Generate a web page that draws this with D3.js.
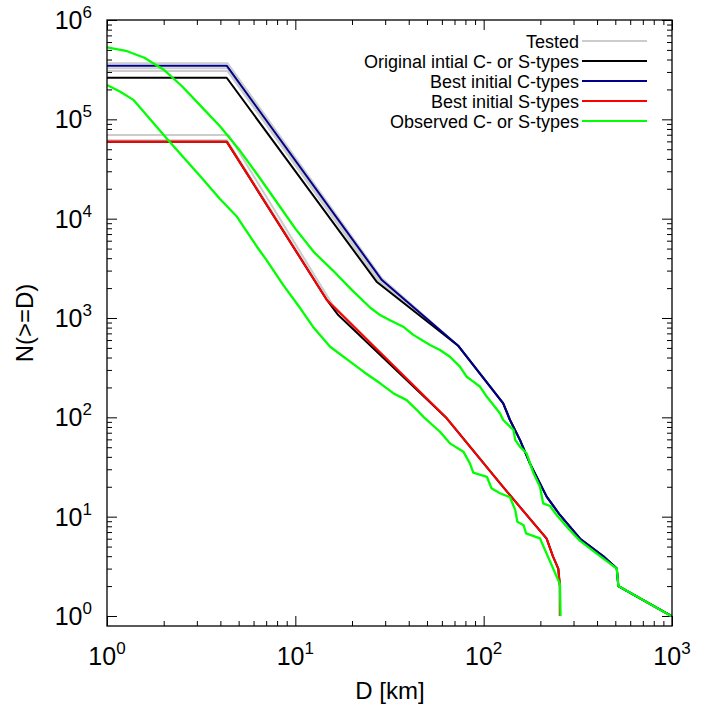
<!DOCTYPE html>
<html><head><meta charset="utf-8">
<script src="https://cdn.jsdelivr.net/npm/d3@7"></script>
<style>
body{margin:0;background:#fff}
svg{display:block}
text{font-family:"Liberation Sans",Arial,Helvetica,sans-serif;fill:#000}
</style>
</head><body>
<svg id="chart" width="708" height="710"></svg>
<script>
// ---------------- data ([D km, N(>=D)]) ----------------
const xMajor = [1, 10, 100, 1000];
const xTickExp = ["0", "1", "2", "3"];
const yMajor = [1, 10, 100, 1e3, 1e4, 1e5, 1e6];
const yTickExp = ["0", "1", "2", "3", "4", "5", "6"];
const minorMult = [2, 3, 4, 5, 6, 7, 8, 9];

const legendLabels = ["Tested", "Original intial C- or S-types", "Best initial C-types", "Best initial S-types", "Observed C- or S-types"];
const legendColors = ["#cccccc", "#000000", "#00008b", "#ff0000", "#00ff00"];

// shared tails
const tailC = [[73.5, 522], [127, 138], [138, 94], [156, 59], [176, 34.4], [216, 15.9], [254, 10.4], [325, 6], [432, 4], [509, 3], [519, 2], [990, 1]];
const tailS = [[63.7, 97.7], [122, 21.7], [216, 6], [233, 4], [249, 3], [254, 2], [254, 1]];

// Tested runs (grey)
const tested1 = [[1, 367000], [4.37, 367000], [28.8, 2510]];
const tested2 = [[1, 326000], [4.37, 326000], [28.2, 2340]];
const tested3 = [[1, 306000], [4.37, 306000], [27.9, 2290]];
const tested4 = [[1, 69500], [4.42, 69500], [15.8, 1350]];
const tested5 = [[1, 61700], [4.34, 61700], [15.0, 1480]];

// Original initial (black)
const origC = [[1, 262000], [4.32, 262000], [27.0, 2320]];
const origS = [[1, 59600], [4.32, 59600], [14.7, 1520], [16.9, 1070]];

// Best initial C-types (blue)
const bestC = [[1, 347000], [4.32, 347000], [28.8, 2410]];
// Best initial S-types (red)
const bestS = [[1, 59600], [4.32, 59600], [14.7, 1520]];

// Observed (green)
const obsC = [[1, 531000], [1.26, 490000], [1.58, 417000], [2.0, 316000], [2.51, 214000], [3.16, 135000],
  [3.98, 85100], [5.01, 50100], [6.31, 27500], [7.94, 14800], [10, 7940], [12.6, 4570], [15.8, 3020],
  [20, 1910], [25.1, 1260], [28.2, 1070], [31.6, 955], [37.4, 817], [42.3, 676], [51.9, 535], [58.6, 476],
  [66.2, 407], [74.8, 324], [81.3, 256], [88.1, 229], [95.7, 203], [104, 161], [122, 110], [127, 94],
  [138, 80.5], [144, 74.5], [147, 59.2], [156, 50.6], [169, 43.4], [184, 27.3], [199, 20], [207, 13.6],
  [225, 12.8], [244, 10.4], [287, 7.3], [325, 5.7], [415, 4.0], [509, 3], [519, 2], [990, 1]];
const obsS = [[1, 222000], [1.17, 191000], [1.38, 157000], [2.07, 64400], [3.12, 26900], [3.98, 15800],
  [4.89, 10500], [6.24, 5250], [7.05, 3800], [8.63, 2140], [10.6, 1260], [12.4, 817], [15.3, 514],
  [21.2, 324], [23.0, 288], [28.2, 220], [33.1, 175], [39.0, 149], [44.1, 119], [47.9, 101], [58.6, 71.6],
  [66.2, 54.7], [78.0, 45.1], [84.5, 34.4], [88.1, 27.7], [104, 25.2], [110, 19.3], [122, 17.2], [138, 15.7],
  [147, 11.7], [151, 8.9], [163, 8.2], [168, 6.8], [199, 6.05], [254, 2.1], [256, 1]];

// ---------------- layout ----------------
const L = 107, R = 672, T = 20, B = 626;
const svg = d3.select("#chart");

const x = d3.scaleLog().domain([1, 1000]).range([L, R]);
const y = d3.scaleLog().domain([0.793, 1e6]).range([B, T]);

const xMinor = xMajor.slice(0, -1).flatMap(d => minorMult.map(m => d * m));
const yMinor = yMajor.slice(0, -1).flatMap(d => minorMult.map(m => d * m));

function axisG(axisFn, scale, vals, size, tr) {
  const g = svg.append("g").attr("transform", tr)
    .call(axisFn(scale).tickValues(vals).tickSize(size).tickFormat(""));
  g.select(".domain").remove();
  g.selectAll(".tick line").attr("stroke", "#000").attr("stroke-width", 1);
  return g;
}
axisG(d3.axisBottom, x, xMinor, -5, `translate(0,${B})`);
axisG(d3.axisBottom, x, xMajor, -10, `translate(0,${B})`);
axisG(d3.axisTop, x, xMinor, -5, `translate(0,${T})`);
axisG(d3.axisTop, x, xMajor, -10, `translate(0,${T})`);
axisG(d3.axisLeft, y, yMinor, -5, `translate(${L},0)`);
axisG(d3.axisLeft, y, yMajor, -10, `translate(${L},0)`);
axisG(d3.axisRight, y, yMinor, -5, `translate(${R},0)`);
axisG(d3.axisRight, y, yMajor, -10, `translate(${R},0)`);

// tick labels
const fs = 25, sfs = 17;
xMajor.forEach((v, i) => {
  const t = svg.append("text").attr("x", x(v)).attr("y", 665).attr("text-anchor", "middle").attr("font-size", fs);
  t.append("tspan").text("10");
  t.append("tspan").attr("dy", -11).attr("font-size", sfs).text(xTickExp[i]);
});
yMajor.forEach((v, i) => {
  const t = svg.append("text").attr("x", 92).attr("y", y(v) + 9).attr("text-anchor", "end").attr("font-size", fs);
  t.append("tspan").text("10");
  t.append("tspan").attr("dy", -11).attr("font-size", sfs).text(yTickExp[i]);
});

// axis titles
svg.append("text").attr("x", 390).attr("y", 699).attr("text-anchor", "middle").attr("font-size", 24).text("D [km]");
svg.append("text").attr("transform", `translate(33,${(T + B) / 2}) rotate(-90)`).attr("text-anchor", "middle").attr("font-size", 24).text("N(>=D)");

// curves
const line = d3.line().x(d => x(d[0])).y(d => y(d[1]));
svg.append("clipPath").attr("id", "clip").append("rect").attr("x", L).attr("y", T).attr("width", R - L).attr("height", B - T);
const plot = svg.append("g").attr("clip-path", "url(#clip)");
const series = [
  { d: tested1.concat(tailC), c: legendColors[0], w: 2 },
  { d: tested2.concat(tailC), c: legendColors[0], w: 2 },
  { d: tested3.concat(tailC), c: legendColors[0], w: 2 },
  { d: tested4.concat(tailS), c: legendColors[0], w: 2 },
  { d: tested5.concat(tailS), c: legendColors[0], w: 2 },
  { d: origC.concat(tailC), c: legendColors[1], w: 2 },
  { d: origS.concat(tailS), c: legendColors[1], w: 2 },
  { d: bestC.concat(tailC), c: legendColors[2], w: 2 },
  { d: bestS.concat(tailS), c: legendColors[3], w: 2 },
  { d: obsC, c: legendColors[4], w: 2.3 },
  { d: obsS, c: legendColors[4], w: 2.3 }
];
series.forEach(s => {
  plot.append("path").datum(s.d).attr("d", line).attr("fill", "none")
    .attr("stroke", s.c).attr("stroke-width", s.w).attr("stroke-linejoin", "round");
});

// frame
svg.append("rect").attr("x", L).attr("y", T).attr("width", R - L).attr("height", B - T)
  .attr("fill", "none").attr("stroke", "#000").attr("stroke-width", 1.3);

// legend
legendLabels.forEach((lab, i) => {
  const yy = 41 + i * 20;
  svg.append("text").attr("x", 579).attr("y", yy + 6.5).attr("text-anchor", "end").attr("font-size", 18).text(lab);
  svg.append("line").attr("x1", 582).attr("x2", 647).attr("y1", yy).attr("y2", yy)
    .attr("stroke", legendColors[i]).attr("stroke-width", 2);
});
</script>
</body></html>
